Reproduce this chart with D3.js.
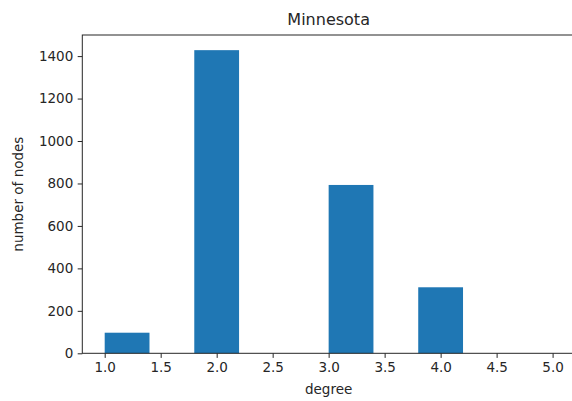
<!DOCTYPE html>
<html>
<head>
<meta charset="utf-8">
<script src="https://cdn.jsdelivr.net/npm/d3@7"></script>
<style>
  html, body { margin: 0; padding: 0; background: #fff; overflow: hidden; }
  svg { display: block; font-family: "DejaVu Sans", sans-serif; }
</style>
</head>
<body>
<svg id="chart" width="572" height="401"></svg>
<script>
// Degree histogram: 10 equal bins between degree 1 and 5
const binEdges = [1.0, 1.4, 1.8, 2.2, 2.6, 3.0, 3.4, 3.8, 4.2, 4.6, 5.0];
const counts = [97, 0, 1428, 0, 0, 793, 0, 311, 0, 0];
const xTicks = [1.0, 1.5, 2.0, 2.5, 3.0, 3.5, 4.0, 4.5, 5.0];
const yTicks = [0, 200, 400, 600, 800, 1000, 1200, 1400];
const title = "Minnesota";
const xLabel = "degree";
const yLabel = "number of nodes";

const bins = counts.map((c, i) => ({ x0: binEdges[i], x1: binEdges[i + 1], count: c }));

const svg = d3.select("#chart");
// the plotting area runs slightly past the right edge of the figure
const plot = { left: 82.3, right: 575, top: 35, bottom: 353.3 };
const ink = "#262626";
const tickFont = 13.5;

const x = d3.scaleLinear().domain([0.8, 5.2]).range([plot.left, plot.right]);
const y = d3.scaleLinear().domain([0, d3.max(counts) * 1.05]).range([plot.bottom, plot.top]);

svg.append("g")
  .selectAll("rect")
  .data(bins.filter(b => b.count > 0))
  .join("rect")
  .attr("x", d => x(d.x0))
  .attr("width", d => x(d.x1) - x(d.x0))
  .attr("y", d => y(d.count))
  .attr("height", d => y(0) - y(d.count))
  .attr("fill", "#1f77b4");

const xAxis = svg.append("g")
  .attr("transform", `translate(0,${plot.bottom})`)
  .call(d3.axisBottom(x).tickValues(xTicks).tickFormat(d3.format(".1f")).tickSize(4.6).tickPadding(4.4));
const yAxis = svg.append("g")
  .attr("transform", `translate(${plot.left},0)`)
  .call(d3.axisLeft(y).tickValues(yTicks).tickFormat(d3.format("d")).tickSize(4.6).tickPadding(4.4));

[xAxis, yAxis].forEach(g => {
  g.select(".domain").remove();
  g.selectAll(".tick line").attr("stroke", ink).attr("stroke-width", 1);
  g.selectAll(".tick text").attr("fill", ink).attr("font-size", tickFont)
    .attr("font-family", "DejaVu Sans, sans-serif");
});

// Frame around the plotting area
svg.append("rect")
  .attr("x", plot.left).attr("y", plot.top)
  .attr("width", plot.right - plot.left).attr("height", plot.bottom - plot.top)
  .attr("fill", "none").attr("stroke", ink).attr("stroke-width", 1);

svg.append("text")
  .attr("x", (plot.left + plot.right) / 2).attr("y", 25)
  .attr("text-anchor", "middle").attr("font-size", 16).attr("fill", ink)
  .text(title);

svg.append("text")
  .attr("x", (plot.left + plot.right) / 2).attr("y", 393.5)
  .attr("text-anchor", "middle").attr("font-size", tickFont).attr("fill", ink)
  .text(xLabel);

svg.append("text")
  .attr("transform", `translate(23,${(plot.top + plot.bottom) / 2}) rotate(-90)`)
  .attr("text-anchor", "middle").attr("font-size", tickFont).attr("fill", ink)
  .text(yLabel);
</script>
</body>
</html>
